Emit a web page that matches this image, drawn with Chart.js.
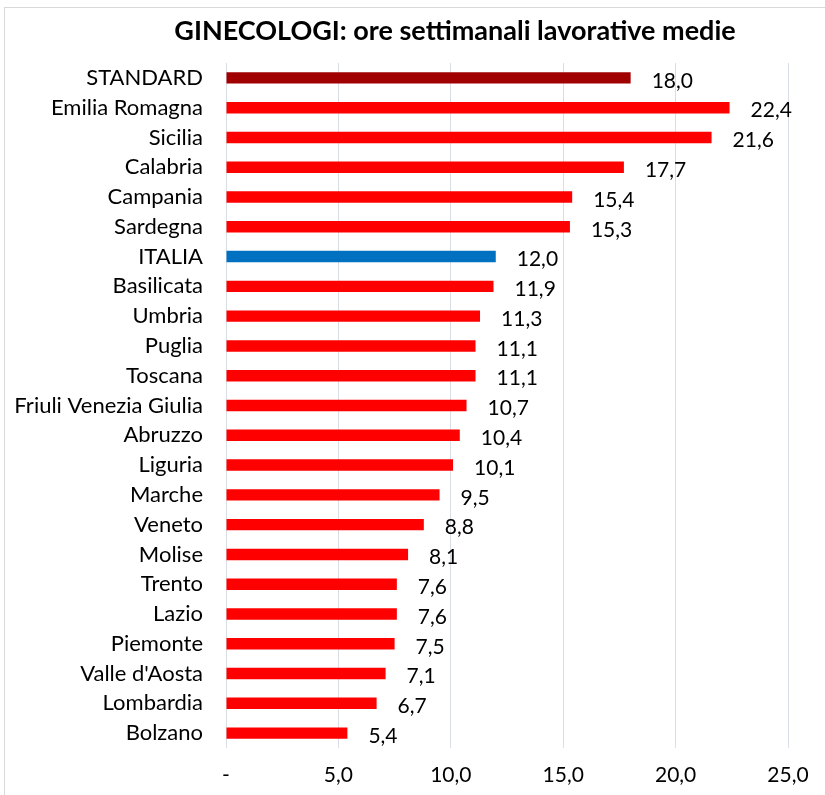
<!DOCTYPE html>
<html>
<head>
<meta charset="utf-8">
<script src="https://cdn.jsdelivr.net/npm/chart.js@4"></script>
<style>
html,body{margin:0;padding:0;background:#fff;width:825px;height:795px;overflow:hidden;}
#frame{position:absolute;left:4px;top:7px;width:840px;height:800px;border:1px solid #d9d9d9;box-sizing:border-box;}
#c{position:absolute;left:0;top:0;}
</style>
</head>
<body>
<div id="frame"></div>
<canvas id="c" width="825" height="795"></canvas>
<script>
const titleText = "GINECOLOGI: ore settimanali lavorative medie";
const categories = ["STANDARD","Emilia Romagna","Sicilia","Calabria","Campania","Sardegna","ITALIA","Basilicata","Umbria","Puglia","Toscana","Friuli Venezia Giulia","Abruzzo","Liguria","Marche","Veneto","Molise","Trento","Lazio","Piemonte","Valle d'Aosta","Lombardia","Bolzano"];
const hours = [18.0,22.4,21.6,17.7,15.4,15.3,12.0,11.9,11.3,11.1,11.1,10.7,10.4,10.1,9.5,8.8,8.1,7.6,7.6,7.5,7.1,6.7,5.4];
const xTicks = [0,5,10,15,20,25];

const FONT = "Lato, 'Open Sans', sans-serif";
const fmt = v => v === 0 ? "-" : v.toFixed(1).replace('.', ',');
const barColors = categories.map(c => c === "STANDARD" ? "#A00000" : (c === "ITALIA" ? "#0070C0" : "#FF0000"));

const labelPlugin = {
  id: 'valLabels',
  afterDatasetsDraw(chart) {
    const ctx = chart.ctx;
    const meta = chart.getDatasetMeta(0);
    ctx.save();
    ctx.font = "21px " + FONT;
    ctx.fillStyle = "#000";
    ctx.textAlign = "left";
    ctx.textBaseline = "middle";
    meta.data.forEach((bar, i) => {
      ctx.fillText(fmt(hours[i]), bar.x + 21, bar.y + 3);
    });
    ctx.restore();
  }
};
const titlePlugin = {
  id: 'titleDraw',
  afterDraw(chart) {
    const ctx = chart.ctx;
    ctx.save();
    ctx.font = "bold 27px " + FONT;
    ctx.fillStyle = "#000";
    ctx.textAlign = "center";
    ctx.textBaseline = "middle";
    ctx.fillText(titleText, 455, 31);
    ctx.restore();
  }
};

new Chart(document.getElementById('c'), {
  type: 'bar',
  data: {
    labels: categories,
    datasets: [{
      data: hours,
      backgroundColor: barColors,
      barPercentage: 0.8,
      categoryPercentage: 0.48
    }]
  },
  options: {
    indexAxis: 'y',
    responsive: false,
    animation: false,
    devicePixelRatio: 1,
    layout: { padding: { left: 0, right: 37, top: 63, bottom: 0 } },
    plugins: { legend: { display: false }, tooltip: { enabled: false }, title: { display: false } },
    scales: {
      x: {
        min: 0, max: 25,
        afterBuildTicks: s => { s.ticks = xTicks.map(v => ({ value: v })); },
        afterFit: s => { s.height = 47; },
        grid: { color: "#d9dde5", lineWidth: 1, drawTicks: false },
        border: { display: false },
        ticks: { callback: v => fmt(v), font: { family: FONT, size: 21 }, color: "#000", padding: 15, maxRotation: 0 }
      },
      y: {
        afterFit: s => { s.width = 226; },
        grid: { display: false, drawTicks: false },
        border: { display: false },
        ticks: { font: { family: FONT, size: 22 }, color: "#000", padding: 23, autoSkip: false }
      }
    }
  },
  plugins: [labelPlugin, titlePlugin]
});
</script>
</body>
</html>
